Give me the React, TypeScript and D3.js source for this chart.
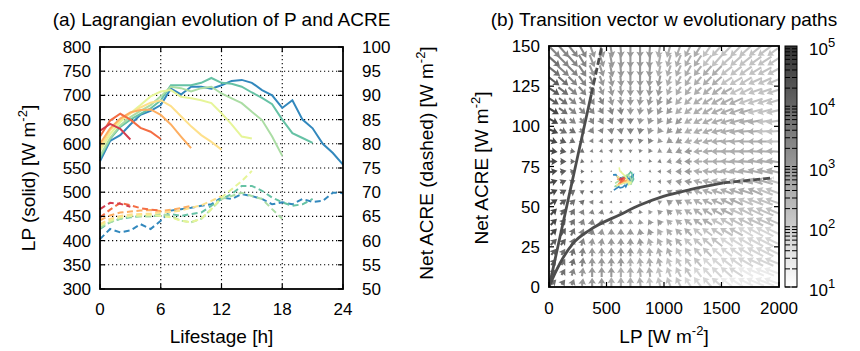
import * as d3 from 'd3';
import React, { useEffect, useRef } from 'react';

const FONT = '"Liberation Sans", Arial, Helvetica, sans-serif';

// ---- panel (a): hourly Lagrangian tracks, one per lifetime ----
const lifetimes = [3, 6, 9, 12, 15, 18, 21, 24];
const trackColors = ['#d53e4f', '#f46d43', '#fdae61', '#fee08b', '#e6f598', '#abdda4', '#66c2a5', '#3288bd'];

const lp03 = [627, 641, 631, 609];
const lp06 = [615, 648, 662, 650, 633, 625, 610];
const lp09 = [600, 632, 652, 665, 670, 671, 660, 640, 615, 591];
const lp12 = [592, 628, 650, 663, 675, 685, 690, 678, 657, 636, 618, 604, 588];
const lp15 = [585, 620, 645, 663, 680, 698, 708, 711, 697, 694, 690, 684, 663, 640, 615, 611];
const lp18 = [575, 612, 638, 655, 668, 680, 698, 718, 715, 708, 715, 718, 704, 694, 684, 666, 649, 615, 575];
const lp21 = [570, 610, 635, 650, 662, 673, 690, 721, 721, 721, 726, 736, 726, 724, 718, 706, 695, 682, 650, 622, 612, 602];
const lp24 = [564, 606, 618, 640, 660, 668, 680, 714, 702, 718, 718, 714, 721, 730, 732, 726, 711, 700, 674, 690, 650, 632, 600, 581, 557];

const acre03 = [66.5, 67.8, 67.6, 67.0];
const acre06 = [64.8, 66.4, 67.8, 67.3, 66.7, 66.4, 66.2];
const acre09 = [64.2, 65.2, 65.8, 66.0, 66.2, 66.3, 66.1, 66.4, 66.7, 67.2];
const acre12 = [63.4, 64.5, 65.1, 65.4, 65.5, 65.6, 65.8, 65.9, 66.2, 66.8, 67.3, 68.2, 69.2];
const acre15 = [63.1, 64.1, 64.8, 65.1, 65.2, 65.3, 65.1, 64.8, 64.1, 63.8, 64.5, 66.5, 68.9, 70.6, 72.3, 74.4];
const acre18 = [62.7, 63.8, 64.5, 65.0, 65.0, 65.0, 65.5, 65.1, 64.1, 63.8, 64.5, 66.5, 68.6, 69.2, 69.9, 69.2, 68.6, 66.5, 64.5];
const acre21 = [62.4, 63.8, 64.5, 64.8, 65.1, 65.1, 65.1, 65.5, 65.1, 65.5, 65.8, 67.2, 68.6, 69.6, 71.3, 71.3, 70.3, 68.9, 67.9, 67.2, 67.5, 68.6];
const acre24 = [60.3, 62.4, 61.7, 62.1, 63.4, 62.4, 64.1, 66.2, 66.5, 66.8, 67.2, 67.5, 68.9, 68.6, 69.6, 69.2, 68.6, 67.5, 67.9, 67.5, 68.6, 68.0, 68.2, 69.9, 69.8];

const lpTracks = [lp03, lp06, lp09, lp12, lp15, lp18, lp21, lp24];
const acreTracks = [acre03, acre06, acre09, acre12, acre15, acre18, acre21, acre24];

const lpTicks = [300, 350, 400, 450, 500, 550, 600, 650, 700, 750, 800];
const acreTicks = [50, 55, 60, 65, 70, 75, 80, 85, 90, 95, 100];
const hourTicks = [0, 6, 12, 18, 24];

// ---- panel (b): binned transition vectors ----
const lpBTicks = [0, 500, 1000, 1500, 2000];
const acreBTicks = [0, 25, 50, 75, 100, 125, 150];
const cbarExponents = [1, 2, 3, 4, 5];

const fieldLP = [42, 125, 208, 292, 375, 458, 542, 625, 708, 792, 875, 958, 1042, 1125, 1208, 1292, 1375, 1458, 1542, 1625, 1708, 1792, 1875, 1958];
// rows listed top to bottom
const fieldACRE = [146.9, 140.6, 134.4, 128.1, 121.9, 115.6, 109.4, 103.1, 96.9, 90.6, 84.4, 78.1, 71.9, 65.6, 59.4, 53.1, 46.9, 40.6, 34.4, 28.1, 21.9, 15.6, 9.4, 3.1];

const fieldU = [
  [10, 9, 8, 6, 4, 3, 2, 1, 0, 0, -1, -2, -3, -4, -5, -6, -7, -8, -9, -9, -10, -10, -11, -11],
  [10, 9, 8, 6, 4, 3, 2, 1, 0, 0, -1, -2, -3, -4, -5, -6, -7, -8, -9, -9, -10, -10, -11, -11],
  [10, 9, 8, 6, 4, 3, 2, 1, 0, 0, -1, -2, -3, -4, -5, -6, -7, -8, -9, -9, -10, -10, -11, -11],
  [9, 8, 7, 6, 4, 3, 2, 1, 0, 0, -1, -2, -3, -4, -5, -6, -7, -8, -9, -10, -10, -11, -11, -12],
  [9, 8, 7, 6, 4, 3, 2, 1, 0, 0, -1, -2, -3, -4, -5, -6, -7, -8, -9, -10, -10, -11, -11, -12],
  [8, 7, 6, 5, 4, 3, 2, 1, 0, -1, -2, -3, -4, -5, -6, -7, -8, -9, -10, -11, -11, -12, -12, -13],
  [8, 7, 6, 5, 4, 3, 2, 1, 0, -1, -2, -3, -4, -5, -6, -7, -8, -9, -10, -11, -11, -12, -12, -13],
  [7, 6, 5, 4, 3, 3, 2, 1, 0, -1, -2, -3, -4, -5, -6, -7, -8, -9, -10, -11, -11, -12, -12, -13],
  [7, 6, 5, 4, 3, 2, 1, 1, 0, -1, -2, -3, -4, -5, -6, -7, -8, -9, -10, -11, -12, -12, -13, -13],
  [6, 5, 4, 3, 2, 2, 1, 0, 0, -1, -2, -3, -4, -5, -6, -7, -8, -9, -10, -11, -12, -12, -13, -13],
  [6, 5, 4, 3, 2, 2, 1, 0, 0, -1, -2, -3, -4, -5, -6, -7, -8, -9, -10, -11, -12, -12, -13, -13],
  [6, 5, 4, 3, 2, 2, 1, 0, 0, -1, -2, -3, -4, -5, -6, -7, -8, -9, -10, -11, -12, -12, -13, -13],
  [6, 5, 4, 3, 2, 2, 1, 0, 0, -1, -2, -3, -4, -5, -6, -7, -8, -9, -10, -11, -12, -12, -13, -13],
  [6, 5, 4, 3, 2, 2, 1, 0, 0, -1, -2, -3, -4, -5, -6, -7, -8, -9, -10, -11, -12, -12, -13, -13],
  [6, 5, 4, 3, 2, 2, 1, 0, 0, -1, -2, -3, -4, -5, -6, -7, -8, -9, -10, -11, -12, -12, -13, -14],
  [6, 5, 4, 3, 2, 1, 1, 0, 0, -1, -2, -3, -4, -5, -6, -7, -8, -9, -10, -11, -12, -13, -13, -14],
  [5, 4, 3, 2, 1, 1, 0, 0, 0, -1, -2, -3, -4, -5, -6, -7, -8, -9, -10, -11, -12, -13, -14, -14],
  [5, 4, 3, 2, 1, 1, 0, 0, 0, -1, -2, -3, -4, -5, -6, -7, -8, -9, -10, -11, -12, -13, -14, -14],
  [5, 4, 3, 2, 1, 1, 0, 0, 0, -1, -2, -3, -4, -5, -6, -7, -8, -9, -10, -11, -12, -13, -14, -15],
  [5, 4, 3, 2, 1, 1, 0, 0, 0, -1, -2, -3, -4, -5, -6, -7, -8, -9, -10, -11, -12, -13, -14, -15],
  [4, 3, 2, 1, 0, 0, 0, 0, 0, -1, -1, -2, -3, -4, -5, -6, -7, -8, -9, -10, -12, -13, -14, -15],
  [4, 3, 2, 1, 0, 0, 0, 0, 0, -1, -1, -2, -3, -4, -5, -6, -7, -8, -9, -10, -12, -13, -14, -15],
  [4, 3, 2, 1, 0, 0, 0, 0, 0, -1, -1, -2, -3, -4, -5, -6, -7, -8, -9, -11, -12, -14, -15, -16],
  [4, 3, 2, 1, 0, 0, 0, 0, 0, -1, -1, -2, -3, -4, -5, -6, -7, -8, -9, -11, -12, -14, -15, -16],
];

const fieldV = [
  [-10, -10, -10, -11, -11, -11, -11, -11, -11, -11, -11, -11, -11, -11, -10, -10, -10, -9, -9, -9, -9, -8, -8, -8],
  [-9, -9, -9, -10, -10, -10, -11, -11, -11, -11, -11, -10, -10, -10, -9, -9, -9, -9, -8, -8, -8, -7, -7, -7],
  [-8, -8, -8, -9, -9, -9, -10, -10, -10, -10, -10, -9, -9, -9, -9, -8, -8, -8, -7, -7, -7, -6, -6, -6],
  [-7, -7, -7, -8, -8, -8, -9, -9, -9, -9, -9, -9, -8, -8, -8, -7, -7, -7, -6, -6, -6, -5, -5, -5],
  [-6, -6, -6, -7, -7, -7, -8, -8, -8, -8, -8, -8, -7, -7, -7, -6, -6, -6, -5, -5, -5, -4, -4, -4],
  [-5, -5, -5, -6, -6, -6, -7, -7, -7, -7, -7, -7, -6, -6, -6, -5, -5, -5, -5, -5, -4, -4, -4, -4],
  [-5, -5, -5, -5, -5, -5, -6, -6, -6, -6, -6, -6, -5, -5, -5, -5, -5, -4, -4, -4, -3, -3, -3, -3],
  [-4, -4, -4, -5, -5, -5, -5, -5, -5, -5, -5, -5, -5, -5, -4, -4, -4, -3, -3, -3, -2, -2, -2, -2],
  [-3, -3, -3, -4, -4, -4, -5, -5, -5, -5, -5, -4, -4, -4, -3, -3, -3, -2, -2, -2, -1, -1, -1, -1],
  [-2, -2, -2, -3, -3, -3, -4, -4, -4, -4, -4, -3, -3, -3, -2, -2, -2, -1, -1, -1, 0, 0, 0, 0],
  [-1, -1, -1, -2, -2, -2, -3, -3, -3, -3, -3, -2, -2, -2, -1, -1, -1, 0, 0, 0, 0, 1, 1, 1],
  [0, 0, 0, -1, -1, -1, -2, -2, -2, -2, -2, -1, -1, -1, 0, 0, 0, 0, 1, 1, 1, 2, 2, 2],
  [1, 1, 1, 0, 0, 0, -1, -1, -1, -1, -1, 0, 0, 0, 0, 1, 1, 1, 2, 2, 2, 3, 3, 3],
  [2, 2, 2, 1, 1, 1, 0, 0, 0, 0, 0, 0, 1, 1, 1, 2, 2, 2, 3, 3, 3, 4, 4, 4],
  [3, 3, 3, 2, 2, 2, 1, 1, 1, 1, 1, 1, 2, 2, 2, 3, 3, 3, 4, 4, 4, 5, 5, 5],
  [4, 4, 4, 3, 3, 3, 2, 2, 2, 2, 2, 2, 3, 3, 3, 4, 4, 4, 5, 5, 5, 5, 5, 5],
  [5, 5, 5, 4, 4, 4, 3, 3, 3, 3, 3, 3, 4, 4, 4, 5, 5, 5, 5, 5, 6, 6, 6, 6],
  [5, 5, 5, 5, 5, 5, 4, 4, 4, 4, 4, 4, 4, 4, 5, 5, 5, 5, 6, 6, 6, 6, 6, 6],
  [5, 6, 6, 5, 5, 5, 5, 5, 5, 5, 5, 5, 5, 5, 6, 6, 6, 6, 6, 6, 7, 7, 7, 7],
  [5, 5, 6, 6, 6, 6, 6, 6, 6, 6, 6, 6, 6, 6, 6, 6, 7, 7, 7, 7, 7, 7, 7, 7],
  [5, 5, 6, 7, 7, 7, 7, 7, 7, 7, 7, 7, 7, 7, 7, 7, 7, 7, 7, 7, 7, 7, 7, 7],
  [5, 5, 6, 7, 7, 7, 7, 7, 7, 7, 7, 7, 7, 7, 7, 7, 7, 7, 7, 7, 7, 6, 6, 6],
  [4, 5, 6, 7, 8, 8, 8, 8, 8, 8, 8, 8, 8, 8, 8, 8, 8, 8, 8, 7, 7, 6, 6, 6],
  [4, 4, 5, 6, 7, 7, 8, 8, 8, 8, 8, 8, 8, 8, 8, 8, 8, 7, 7, 7, 6, 6, 6, 6],
];

// sample count per bin, digit d -> 10^(1 + 0.4 d)
const fieldCount = [
  '666655555554444433333333',
  '766655555554444433333333',
  '766655555554444444333333',
  '876665555555444444333333',
  '876665555555444444433333',
  '876666555555544444443333',
  '976666665555544444444333',
  '976666666555554444444433',
  '977666666655554444444433',
  '987666666665554444444443',
  '987766666665555444444444',
  '987766666666555444444444',
  '987766667666555444444444',
  '987776677766555444444443',
  '987776677666555444444433',
  '987766666665554444443333',
  '987666666655544444433333',
  '987666665555444443333333',
  '987665555554444333332222',
  '887655555544443333222222',
  '877655555444433332222222',
  '877655554444333322222222',
  '776555544443333222221111',
  '776555444433332222111111',
];

const steepLP = [0, 368, 460];
const steepACRE = [0, 120, 150];
const curveLP = [0, 52, 96, 211, 357, 617, 791, 994, 1226, 1516, 1950];
const curveACRE = [0, 8.5, 14.8, 27.3, 35.6, 45, 51, 56.4, 60.6, 64.8, 68];

const App = () => {
  const chartRef = useRef<SVGSVGElement>(null);

  useEffect(() => {
    drawChart();
  }, []);

  const addUnitLabel = (t: any, prefix: string) => {
    t.append('tspan').text(prefix + '[W m');
    t.append('tspan').attr('dy', -8).style('font-size', '13px').text('-2');
    t.append('tspan').attr('dy', 8).text(']');
  };

  const drawChart = () => {
    const svg = d3.select(chartRef.current);
    svg.selectAll('*').remove();
    svg.style('font-family', FONT);

    // ================= panel (a) =================
    const a = { l: 100, r: 343, t: 47, b: 289 };
    const x = d3.scaleLinear().domain([0, 24]).range([a.l, a.r]);
    const yL = d3.scaleLinear().domain([300, 800]).range([a.b, a.t]);
    const yR = d3.scaleLinear().domain([50, 100]).range([a.b, a.t]);
    const ga = svg.append('g');

    ga.selectAll('.hgrid')
      .data(lpTicks.slice(1, -1))
      .enter().append('line')
      .attr('x1', a.l).attr('x2', a.r)
      .attr('y1', d => yL(d)).attr('y2', d => yL(d))
      .attr('stroke', '#000').attr('stroke-width', 1.1).attr('stroke-dasharray', '1.2,2.8');
    ga.selectAll('.vgrid')
      .data(hourTicks.slice(1, -1))
      .enter().append('line')
      .attr('y1', a.t).attr('y2', a.b)
      .attr('x1', d => x(d)).attr('x2', d => x(d))
      .attr('stroke', '#000').attr('stroke-width', 1.1).attr('stroke-dasharray', '1.2,2.8');

    const lineLP = d3.line<number>().x((d, i) => x(i)).y(d => yL(d));
    const lineACRE = d3.line<number>().x((d, i) => x(i)).y(d => yR(d));
    for (let k = lifetimes.length - 1; k >= 0; k--) {
      ga.append('path').datum(lpTracks[k]).attr('d', lineLP)
        .attr('fill', 'none').attr('stroke', trackColors[k]).attr('stroke-width', 2);
      ga.append('path').datum(acreTracks[k]).attr('d', lineACRE)
        .attr('fill', 'none').attr('stroke', trackColors[k]).attr('stroke-width', 2)
        .attr('stroke-dasharray', '6,3.5');
    }

    // ticks
    lpTicks.forEach(v => {
      ga.append('line').attr('x1', a.l).attr('x2', a.l + 5).attr('y1', yL(v)).attr('y2', yL(v)).attr('stroke', '#000').attr('stroke-width', 1.2);
      ga.append('text').attr('x', a.l - 9).attr('y', yL(v) + 6).attr('text-anchor', 'end').style('font-size', '17px').text(v);
    });
    acreTicks.forEach(v => {
      ga.append('line').attr('x1', a.r).attr('x2', a.r - 5).attr('y1', yR(v)).attr('y2', yR(v)).attr('stroke', '#000').attr('stroke-width', 1.2);
      ga.append('text').attr('x', a.r + 19).attr('y', yR(v) + 6).attr('text-anchor', 'start').style('font-size', '17px').text(v);
    });
    hourTicks.forEach(v => {
      ga.append('line').attr('x1', x(v)).attr('x2', x(v)).attr('y1', a.b).attr('y2', a.b - 5).attr('stroke', '#000').attr('stroke-width', 1.2);
      ga.append('line').attr('x1', x(v)).attr('x2', x(v)).attr('y1', a.t).attr('y2', a.t + 5).attr('stroke', '#000').attr('stroke-width', 1.2);
      ga.append('text').attr('x', x(v)).attr('y', 315).attr('text-anchor', 'middle').style('font-size', '17px').text(v);
    });
    ga.append('rect').attr('x', a.l).attr('y', a.t).attr('width', a.r - a.l).attr('height', a.b - a.t)
      .attr('fill', 'none').attr('stroke', '#000').attr('stroke-width', 1.8);

    ga.append('text').attr('x', (a.l + a.r) / 2).attr('y', 26).attr('text-anchor', 'middle')
      .style('font-size', '19px').text('(a) Lagrangian evolution of P and ACRE');
    ga.append('text').attr('x', (a.l + a.r) / 2).attr('y', 343).attr('text-anchor', 'middle')
      .style('font-size', '19px').text('Lifestage [h]');
    addUnitLabel(ga.append('text').attr('transform', 'translate(35,178) rotate(-90)')
      .attr('text-anchor', 'middle').style('font-size', '19px'), 'LP (solid) ');
    addUnitLabel(ga.append('text').attr('transform', 'translate(433,163) rotate(-90)')
      .attr('text-anchor', 'middle').style('font-size', '19px'), 'Net ACRE (dashed) ');

    // ================= panel (b) =================
    const b = { l: 549, r: 779, t: 46, b: 287 };
    const xb = d3.scaleLinear().domain([0, 2000]).range([b.l, b.r]);
    const yb = d3.scaleLinear().domain([0, 150]).range([b.b, b.t]);
    const gray = d3.scaleLog<string>().domain([10, 1e5]).range(['#ffffff', '#333333'])
      .interpolate(d3.interpolateRgb).clamp(true);
    const gb = svg.append('g');

    gb.append('clipPath').attr('id', 'clipb').append('rect')
      .attr('x', b.l).attr('y', b.t).attr('width', b.r - b.l).attr('height', b.b - b.t);
    const field = gb.append('g').attr('clip-path', 'url(#clipb)');

    // quiver arrow geometry (px); vector components are scaled by arrowScale
    const arrowScale = 1.25;
    const hl = 6.2, hal = 5.4, hw = 3.8, sw = 1.05;
    fieldACRE.forEach((acre, i) => {
      fieldLP.forEach((lp, j) => {
        const u = fieldU[i][j];
        const v = fieldV[i][j];
        const len = Math.max(Math.hypot(u, v) * arrowScale, 1.4);
        const s = len < hl ? len / hl : 1;
        const pts: [number, number][] = [
          [0, -sw * s], [len - hal * s, -sw * s], [len - hl * s, -hw * s], [len, 0],
          [len - hl * s, hw * s], [len - hal * s, sw * s], [0, sw * s],
        ];
        const ang = Math.atan2(v, u);
        const px = xb(lp) - Math.cos(ang) * len / 2;
        const py = yb(acre) + Math.sin(ang) * len / 2;
        const count = Math.pow(10, 1 + 0.4 * +fieldCount[i][j]);
        field.append('polygon')
          .attr('points', pts.map(p => p.join(',')).join(' '))
          .attr('transform', `translate(${px},${py}) rotate(${(-ang * 180) / Math.PI})`)
          .attr('fill', gray(count));
      });
    });

    const pairLine = d3.line<[number, number]>().x(d => xb(d[0])).y(d => yb(d[1]));
    const steep = steepLP.map((d, i) => [d, steepACRE[i]] as [number, number]);
    const curve = curveLP.map((d, i) => [d, curveACRE[i]] as [number, number]);
    const curveLine = d3.line<[number, number]>().x(d => xb(d[0])).y(d => yb(d[1])).curve(d3.curveMonotoneX);

    field.append('path').datum(steep.slice(0, 2)).attr('d', pairLine)
      .attr('fill', 'none').attr('stroke', '#4d4d4d').attr('stroke-width', 2.8);
    field.append('path').datum(steep.slice(1)).attr('d', pairLine)
      .attr('fill', 'none').attr('stroke', '#4d4d4d').attr('stroke-width', 2.8).attr('stroke-dasharray', '7,3');
    field.append('path').datum(curve.slice(0, 10)).attr('d', curveLine)
      .attr('fill', 'none').attr('stroke', '#4d4d4d').attr('stroke-width', 2.8);
    field.append('path').datum(curve.slice(9)).attr('d', curveLine)
      .attr('fill', 'none').attr('stroke', '#4d4d4d').attr('stroke-width', 2.8).attr('stroke-dasharray', '7,3');

    for (let k = lifetimes.length - 1; k >= 0; k--) {
      const path = lpTracks[k].map((d, i) => [d, acreTracks[k][i]] as [number, number]);
      field.append('path').datum(path).attr('d', pairLine)
        .attr('fill', 'none').attr('stroke', trackColors[k]).attr('stroke-width', 1.6);
    }

    acreBTicks.slice(1, -1).forEach(v => {
      gb.append('line').attr('x1', b.l).attr('x2', b.l + 5).attr('y1', yb(v)).attr('y2', yb(v)).attr('stroke', '#000').attr('stroke-width', 1.2);
      gb.append('line').attr('x1', b.r).attr('x2', b.r - 5).attr('y1', yb(v)).attr('y2', yb(v)).attr('stroke', '#000').attr('stroke-width', 1.2);
    });
    acreBTicks.forEach(v => {
      gb.append('text').attr('x', b.l - 9).attr('y', yb(v) + 6).attr('text-anchor', 'end').style('font-size', '17px').text(v);
    });
    lpBTicks.forEach(v => {
      gb.append('line').attr('x1', xb(v)).attr('x2', xb(v)).attr('y1', b.b).attr('y2', b.b - 5).attr('stroke', '#000').attr('stroke-width', 1.2);
      gb.append('line').attr('x1', xb(v)).attr('x2', xb(v)).attr('y1', b.t).attr('y2', b.t + 5).attr('stroke', '#000').attr('stroke-width', 1.2);
      gb.append('text').attr('x', xb(v)).attr('y', 313.5).attr('text-anchor', 'middle').style('font-size', '17px').text(v);
    });
    gb.append('rect').attr('x', b.l).attr('y', b.t).attr('width', b.r - b.l).attr('height', b.b - b.t)
      .attr('fill', 'none').attr('stroke', '#000').attr('stroke-width', 1.8);

    gb.append('text').attr('x', (b.l + b.r) / 2).attr('y', 26).attr('text-anchor', 'middle')
      .style('font-size', '19px').text('(b) Transition vector w evolutionary paths');
    addUnitLabel(gb.append('text').attr('x', (b.l + b.r) / 2).attr('y', 343).attr('text-anchor', 'middle')
      .style('font-size', '19px'), 'LP ');
    addUnitLabel(gb.append('text').attr('transform', 'translate(488,168) rotate(-90)')
      .attr('text-anchor', 'middle').style('font-size', '19px'), 'Net ACRE ');

    // colorbar
    const cb = { l: 785, r: 797 };
    const yc = d3.scaleLog().domain([10, 1e5]).range([b.b, b.t]);
    const grad = svg.append('defs').append('linearGradient').attr('id', 'cbgrad')
      .attr('x1', 0).attr('x2', 0).attr('y1', 1).attr('y2', 0);
    d3.range(0, 1.0001, 0.1).forEach(t => {
      grad.append('stop').attr('offset', t).attr('stop-color', gray(Math.pow(10, 1 + 4 * t)));
    });
    gb.append('rect').attr('x', cb.l).attr('y', b.t).attr('width', cb.r - cb.l).attr('height', b.b - b.t)
      .attr('fill', 'url(#cbgrad)');
    cbarExponents.slice(0, -1).forEach(e => {
      d3.range(1, 10).forEach(m => {
        const yy = yc(m * Math.pow(10, e));
        gb.append('line').attr('x1', cb.l).attr('x2', cb.l + 5).attr('y1', yy).attr('y2', yy).attr('stroke', '#000').attr('stroke-width', 1);
        gb.append('line').attr('x1', cb.r).attr('x2', cb.r - 5).attr('y1', yy).attr('y2', yy).attr('stroke', '#000').attr('stroke-width', 1);
      });
    });
    gb.append('rect').attr('x', cb.l).attr('y', b.t).attr('width', cb.r - cb.l).attr('height', b.b - b.t)
      .attr('fill', 'none').attr('stroke', '#000').attr('stroke-width', 1);
    cbarExponents.forEach(e => {
      const t = gb.append('text').attr('x', 809).attr('y', yc(Math.pow(10, e)) + 9).style('font-size', '17px');
      t.append('tspan').text('10');
      t.append('tspan').attr('dy', -8).style('font-size', '13px').text(e);
    });
  };

  return (
    <div style={{ position: 'absolute', left: 0, top: 0 }}>
      <svg ref={chartRef} width={860} height={351}></svg>
    </div>
  );
};

export default App;
